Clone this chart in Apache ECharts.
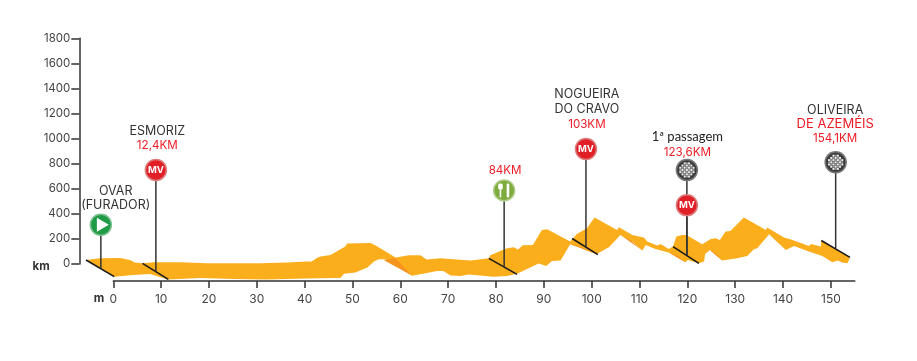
<!DOCTYPE html>
<html>
<head>
<meta charset="utf-8">
<style>
  html, body { margin: 0; padding: 0; background: #fff; }
  #chart { width: 917px; height: 361px; }
</style>
</head>
<body>
<div id="chart"></div>
<script src="https://cdn.jsdelivr.net/npm/echarts@6/dist/echarts.min.js"></script>
<script>
const yTicks = [0, 200, 400, 600, 800, 1000, 1200, 1400, 1600, 1800];

// back edge of the ribbon, [km, m]
const topEdge = [
  [-5.7, 32], [-2.8, 45], [1.4, 48], [3.5, 32], [4.5, 11], [6.1, 5], [8.4, 13], [14, 13], [19.6, 5],
  [25, 5], [30.7, 5], [36.3, 11], [40.5, 19], [41.5, 19], [42.6, 50], [43.3, 59], [45.4, 72], [48.5, 139],
  [48.9, 163], [53.8, 168], [55.2, 139], [59, 51], [61.8, 69], [64.2, 69], [65.5, 35], [68.4, 45],
  [74.7, 27], [78.5, 45], [78.8, 69], [82.3, 125], [83.7, 133], [84.6, 115], [85.6, 149], [87.7, 152],
  [89.6, 272], [90.7, 277], [95.5, 179], [96.9, 240], [99, 285], [100.6, 371], [105.3, 272], [105.7, 293],
  [108.5, 232], [110.9, 211], [111.6, 179], [113.7, 147], [114.4, 160], [116.1, 120], [117, 139],
  [117.7, 219], [118.9, 232], [119.8, 232], [123.1, 157], [124.9, 200], [125.9, 205], [126.8, 192],
  [128, 259], [129, 264], [131.8, 371], [136.4, 272], [136.7, 291], [140.2, 211], [142, 192], [145.4, 144],
  [145.9, 160], [147.9, 139], [148, 187], [154, 53]
];
// front edge of the ribbon, [km, m], read left to right
const bottomEdge = [
  [-5.7, 32], [0.2, -101], [4.2, -88], [7.7, -80], [11.4, -123], [18.2, -112], [25, -120], [32, -123],
  [40.5, -115], [46.4, -112], [47.5, -112], [48.2, -77], [50.6, -67], [53.1, -27], [54.5, 19], [55.5, 37],
  [56.9, 37], [62.5, -93], [67.7, -56], [69, -56], [70.5, -91], [72.6, -96], [74.3, -83], [79.5, -101],
  [82.3, -96], [84.4, -77], [88.9, 3], [90.5, -16], [91.7, 24], [93.5, 27], [95.5, 157], [96.9, 139],
  [101, 77], [102.9, 120], [103.6, 133], [106, 232], [108.5, 179], [110.6, 107], [111.3, 152], [113.3, 120],
  [116.1, 91], [119.6, 13], [120.1, 32], [122.4, 5], [123.5, 19], [123.7, 80], [124.7, 112], [127.3, 27],
  [130.4, 45], [132.5, 64], [133.9, 117], [134.6, 125], [137.1, 237], [140.6, 112], [142.3, 144],
  [145.4, 99], [148.2, 64], [150.3, 13], [151.4, 27], [152.4, 11], [153.5, 5], [154, 53]
];
// darker faces where the ribbon folds
const shadeFaces = [
  [[56.5, 32], [59, 45], [62.5, -93]],
  [[95.5, 157], [96.9, 139], [101, 77], [97, 150]],
  [[106, 232], [108.1, 192], [110.6, 107]],
  [[116.1, 91], [118, 64], [119.6, 13]],
  [[124.7, 112], [126, 85], [127.3, 27]],
  [[137.1, 237], [138.8, 179], [140.6, 112]]
];
// black cross lines on the ribbon
const crossLines = [
  [[-5.7, 32], [0.2, -101]],
  [[6.1, 5], [11.5, -123]],
  [[78.5, 45], [84.4, -83]],
  [[95.9, 203], [101.3, 75]],
  [[117, 139], [122.4, 5]],
  [[148, 187], [154, 53]]
];
const pinKm = [-2.6, 8.9, 81.7, 98.8, 119.9, 119.9, 151];
const pinBase = [-40, -61, -21, 133, 72, 72, 125];
const pinTop = [313, 750, 587, 917, 750, 469, 811];
const pinKind = ["start", "mv", "food", "mv", "finish", "mv", "finish"];

const labelText = ["OVAR", "(FURADOR)", "ESMORIZ", "12,4KM", "84KM", "NOGUEIRA", "DO CRAVO", "103KM", "1ª passagem", "123,6KM", "OLIVEIRA", "DE AZEMÉIS", "154,1KM", "km", "m"];
const labelKm = [0.5, 0.5, 9.2, 9.2, 81.9, 99, 99, 99, 120, 120, 150.9, 150.9, 150.9, -15.1, -3];
const labelM = [580, 470, 1055, 941, 744, 1353, 1236, 1116, 1013, 893, 1228, 1116, 997, -24, -279];
const labelKind = ["name", "name", "name", "dist", "dist", "name", "name", "dist", "note", "dist", "name", "town", "dist", "unit", "unit"];

const labelStyle = {
  name: { fill: "#333", font: "12.5px Inter" },
  note: { fill: "#222", font: "13px Lato" },
  town: { fill: "#ed1c24", font: "13px Inter" },
  dist: { fill: "#ed1c24", font: "11.6px Inter" },
  unit: { fill: "#333", font: "bold 11.5px Inter" }
};
const badgeColor = { start: "#1f9a45", mv: "#e01f26", food: "#7dab3c", finish: "#3a3a3a" };
const ringColor = { start: "#7cc08f", mv: "#dc7c7c", food: "#b3cd8c", finish: "#777" };

function polygonSeries(shapes, color, z) {
  return {
    type: "custom", coordinateSystem: "cartesian2d", silent: true, z, clip: false,
    data: shapes.map((_, i) => [i]),
    renderItem: (params, api) => ({
      type: "polygon",
      shape: { points: shapes[params.dataIndex].map((p) => api.coord(p)) },
      style: { fill: color }
    })
  };
}

function badgeGlyph(kind, cx, cy) {
  const white = { fill: "#fff" };
  if (kind === "start") {
    return [{ type: "polygon", shape: { points: [[cx - 4, cy - 7], [cx + 8, cy], [cx - 4, cy + 7]] }, style: white }];
  }
  if (kind === "mv") {
    return [{ type: "text", style: { x: cx, y: cy, text: "MV", fill: "#fff", font: "bold 9.5px Inter", align: "center", verticalAlign: "middle" } }];
  }
  if (kind === "food") {
    return [
      { type: "rect", shape: { x: cx - 4.5, y: cy - 1, width: 1.6, height: 8 }, style: white },
      { type: "rect", shape: { x: cx - 6, y: cy - 7, width: 4.6, height: 6, r: 1.5 }, style: white },
      { type: "rect", shape: { x: cx + 2.5, y: cy - 7, width: 2.6, height: 14, r: 1 }, style: white }
    ];
  }
  const dots = [];
  for (let i = -3; i <= 3; i++) {
    for (let j = -3; j <= 3; j++) {
      if (i * i + j * j > 10) continue;
      dots.push({
        type: "rect",
        shape: { x: cx + i * 2.2 - 1, y: cy + j * 2.2 - 1, width: 2, height: 2 },
        style: { fill: (i + j) % 2 === 0 ? "#eee" : "#999" }
      });
    }
  }
  return dots;
}

const chart = echarts.init(document.getElementById("chart"), null, { renderer: "canvas" });

const axisColor = "#333";
chart.setOption({
  animation: false,
  backgroundColor: "#fff",
  grid: { left: 113.3, top: 38.3, width: 741.5, height: 225.7, containLabel: false },
  xAxis: {
    type: "value", min: 0, max: 155, interval: 10, offset: 17,
    position: "bottom",
    splitLine: { show: false },
    axisLine: { show: true, onZero: false, lineStyle: { color: axisColor, width: 1.5 } },
    axisTick: { show: true, length: 7, lineStyle: { color: axisColor, width: 1.5 } },
    axisLabel: { color: "#444", fontFamily: "Inter", fontSize: 12, margin: 12, hideOverlap: false, showMaxLabel: false }
  },
  yAxis: {
    type: "value", min: yTicks[0], max: yTicks[yTicks.length - 1], interval: 200, offset: 34,
    position: "left",
    splitLine: { show: false },
    axisLine: { show: true, onZero: false, lineStyle: { color: axisColor, width: 1.5 } },
    axisTick: { show: true, length: 8, lineStyle: { color: axisColor, width: 1.5 } },
    axisLabel: { color: "#444", fontFamily: "Inter", fontSize: 11.5, margin: 9, hideOverlap: false, formatter: (v) => String(v) }
  },
  series: [
    polygonSeries([topEdge.concat(bottomEdge.slice().reverse())], "#fbae1c", 2),
    polygonSeries(shadeFaces, "#f7941e", 3),
    {
      type: "custom", coordinateSystem: "cartesian2d", silent: true, z: 4, clip: false,
      data: crossLines.map((_, i) => [i]),
      renderItem: (params, api) => {
        const line = crossLines[params.dataIndex];
        const a = api.coord(line[0]);
        const b = api.coord(line[1]);
        return {
          type: "line",
          shape: { x1: a[0], y1: a[1], x2: b[0], y2: b[1] },
          style: { stroke: "#1a1a1a", lineWidth: 1.6 }
        };
      }
    },
    {
      type: "custom", coordinateSystem: "cartesian2d", silent: true, z: 5, clip: false,
      data: pinKm.map((km, i) => [km, pinBase[i], pinTop[i]]),
      renderItem: (params, api) => {
        const kind = pinKind[params.dataIndex];
        const base = api.coord([api.value(0), api.value(1)]);
        const top = api.coord([api.value(0), api.value(2)]);
        return {
          type: "group",
          children: [
            { type: "line", shape: { x1: base[0], y1: base[1], x2: top[0], y2: top[1] }, style: { stroke: "#333", lineWidth: 1.5 } },
            { type: "circle", shape: { cx: top[0], cy: top[1], r: 10.5 }, style: { fill: badgeColor[kind], stroke: ringColor[kind], lineWidth: 1.5 } }
          ].concat(badgeGlyph(kind, top[0], top[1]))
        };
      }
    },
    {
      type: "custom", coordinateSystem: "cartesian2d", silent: true, z: 6, clip: false,
      data: labelKm.map((km, i) => [km, labelM[i]]),
      renderItem: (params, api) => {
        const p = api.coord([api.value(0), api.value(1)]);
        const st = labelStyle[labelKind[params.dataIndex]];
        return {
          type: "text",
          style: { x: p[0], y: p[1], text: labelText[params.dataIndex], fill: st.fill, font: st.font, align: "center", verticalAlign: "middle" }
        };
      }
    }
  ]
});
</script>
</body>
</html>
